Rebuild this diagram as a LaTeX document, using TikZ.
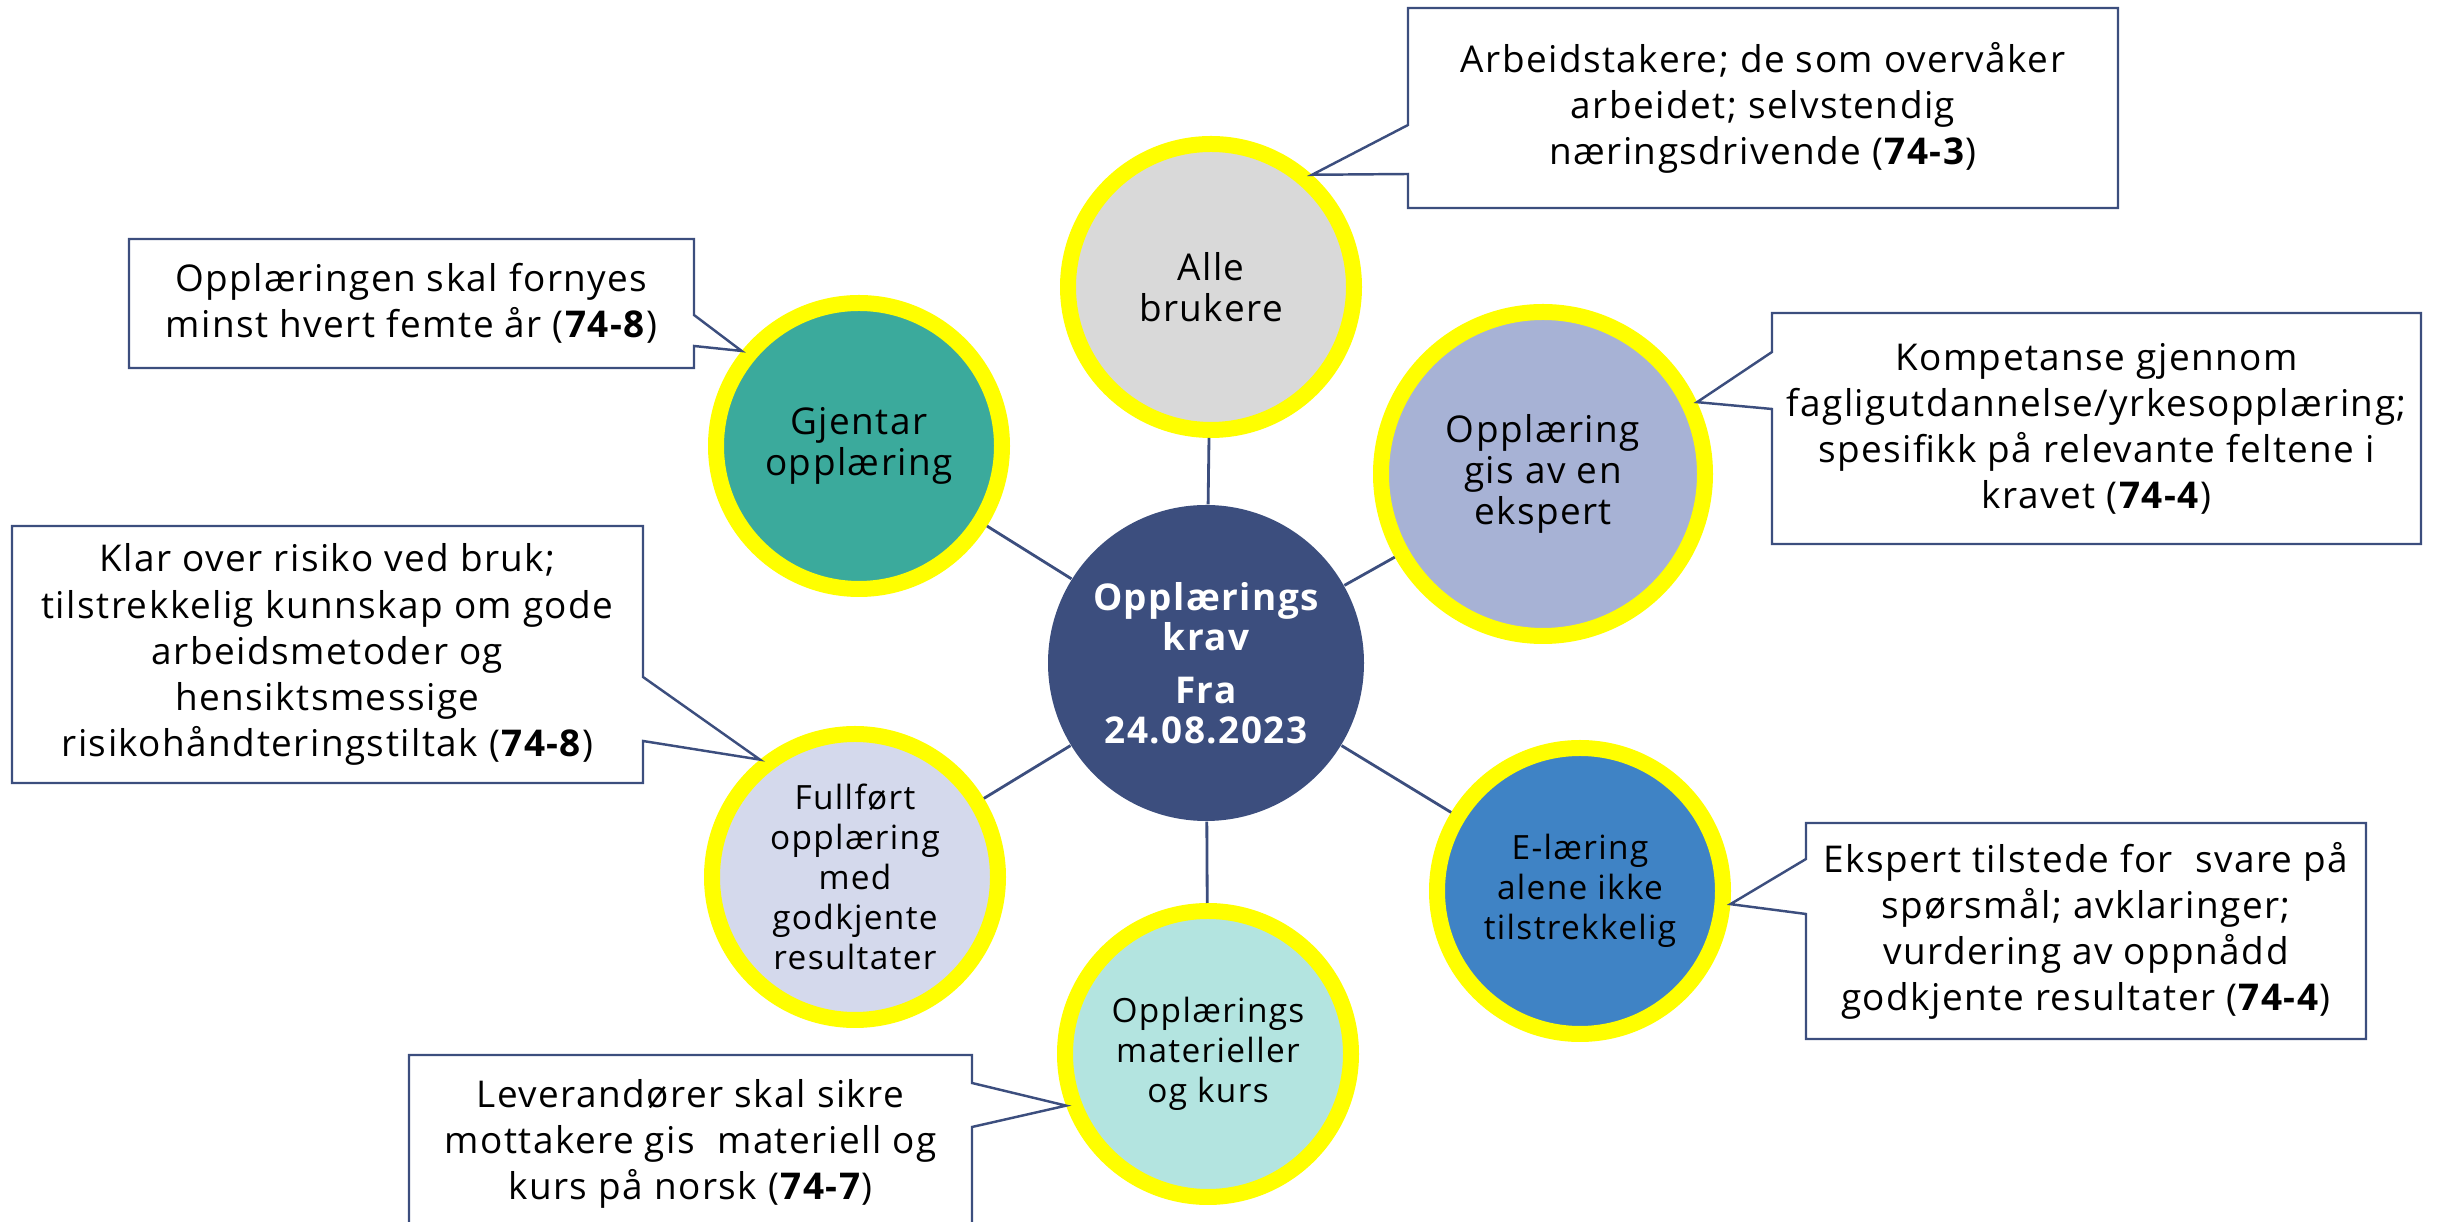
\documentclass[tikz,border=0pt]{standalone}
\usepackage{fontspec}
\setmainfont{Open Sans}[LetterSpace=4.0]

\definecolor{kravblue}{HTML}{3C4E7E}
\definecolor{ringyellow}{HTML}{FFFF00}
\definecolor{allegrey}{HTML}{D9D9D9}
\definecolor{gjentarteal}{HTML}{3BAA9C}
\definecolor{gislavender}{HTML}{A7B2D5}
\definecolor{elaeringblue}{HTML}{3F83C5}
\definecolor{materiellaqua}{HTML}{B3E4E0}
\definecolor{fullfortpale}{HTML}{D4D9EC}

\begin{document}
\begin{tikzpicture}[
		hub/.style={circle,fill=kravblue,text=white,inner sep=0pt,minimum size=3.16cm,
			align=center,font=\bfseries\fontsize{10.5}{11.4}\selectfont},
		bubble/.style={circle,draw=ringyellow,line width=0.16cm,outer sep=0.08cm,inner sep=0pt,
			minimum size=2.86cm,align=center,font=\fontsize{10.5}{11.6}\selectfont},
		smallbubble/.style={bubble,font=\fontsize{9.5}{11.4}\selectfont},
		note/.style={draw=none,outer sep=0pt,inner sep=0pt,align=center,
			font=\fontsize{10.5}{13.1}\selectfont},
		callout/.style={draw=kravblue,line width=0.7pt},
		spoke/.style={draw=kravblue,line width=0.8pt}
		]
		\path[use as bounding box] (0,0) rectangle (24.38,-12.22);
		\clip (0,0) rectangle (24.38,-12.22);

		\node[hub](krav) at (12.06,-6.63){Opplærings\\krav\\[0.13cm]Fra\\24.08.2023};

		\node[bubble, fill=allegrey](alle) at (12.11,-2.87){Alle\\brukere};
		\node[bubble, fill=gjentarteal](gjentar) at (8.59,-4.46){Gjentar\\opplæring};
		\node[bubble, fill=gislavender, minimum size=3.24cm](gis) at (15.43,-4.74){Opplæring\\gis av en\\ekspert};
		\node[smallbubble, fill=elaeringblue](elaering) at (15.80,-8.91){E-læring\\alene ikke\\tilstrekkelig};
		\node[smallbubble, fill=materiellaqua](materiell) at (12.08,-10.54){Opplærings\\materieller\\og kurs};
		\node[smallbubble, fill=fullfortpale](fullfort) at (8.55,-8.77){Fullført\\opplæring\\med\\godkjente\\resultater};

		\foreach \sat in {alle,gjentar,gis,elaering,materiell,fullfort}
			\draw[spoke] (krav) -- (\sat);

		% callouts, right side
		\node[note, minimum width=7.10cm, minimum height=2.00cm](alletxt) at (17.63,-1.08)
			{Arbeidstakere; de som overvåker\\arbeidet; selvstendig\\næringsdrivende (\textbf{74-3})};
		\draw[callout] (alletxt.north west) -- (alletxt.north east) -- (alletxt.south east)
			-- (alletxt.south west) -- (alletxt.west |- 0,-1.74) -- (alle.48)
			-- (alletxt.west |- 0,-1.25) -- cycle;

		\node[note, minimum width=6.49cm, minimum height=2.31cm](gistxt) at (20.965,-4.285)
			{Kompetanse gjennom\\fagligutdannelse/yrkesopplæring;\\spesifikk på relevante feltene i\\kravet (\textbf{74-4})};
		\draw[callout] (gistxt.north west) -- (gistxt.north east) -- (gistxt.south east)
			-- (gistxt.south west) -- (gistxt.west |- 0,-4.09) -- (gis.25)
			-- (gistxt.west |- 0,-3.52) -- cycle;

		\node[note, minimum width=5.60cm, minimum height=2.16cm](elaeringtxt) at (20.86,-9.31)
			{Ekspert tilstede for~ svare på\\spørsmål; avklaringer;\\vurdering av oppnådd\\godkjente resultater (\textbf{74-4})};
		\draw[callout] (elaeringtxt.north west) -- (elaeringtxt.north east) -- (elaeringtxt.south east)
			-- (elaeringtxt.south west) -- (elaeringtxt.west |- 0,-9.14) -- (elaering.-5)
			-- (elaeringtxt.west |- 0,-8.59) -- cycle;

		% callouts, left side
		\node[note, minimum width=5.65cm, minimum height=1.29cm](gjentartxt) at (4.115,-3.035)
			{Opplæringen skal fornyes\\minst hvert femte år (\textbf{74-8})};
		\draw[callout] (gjentartxt.north west) -- (gjentartxt.north east)
			-- (gjentartxt.east |- 0,-3.15) -- (gjentar.141) -- (gjentartxt.east |- 0,-3.46)
			-- (gjentartxt.south east) -- (gjentartxt.south west) -- cycle;

		\node[note, minimum width=6.31cm, minimum height=2.57cm](fullforttxt) at (3.275,-6.545)
			{Klar over risiko ved bruk;\\tilstrekkelig kunnskap om gode\\arbeidsmetoder og\\hensiktsmessige\\risikohåndteringstiltak (\textbf{74-8})};
		\draw[callout] (fullforttxt.north west) -- (fullforttxt.north east)
			-- (fullforttxt.east |- 0,-6.77) -- (fullfort.129) -- (fullforttxt.east |- 0,-7.41)
			-- (fullforttxt.south east) -- (fullforttxt.south west) -- cycle;

		\node[note, minimum width=5.63cm, minimum height=1.78cm](materielltxt) at (6.905,-11.44)
			{Leverandører skal sikre\\mottakere gis~ materiell og\\kurs på norsk (\textbf{74-7})};
		\draw[callout] (materielltxt.north west) -- (materielltxt.north east)
			-- (materielltxt.east |- 0,-10.83) -- (materiell.200) -- (materielltxt.east |- 0,-11.27)
			-- (materielltxt.south east) -- (materielltxt.south west) -- cycle;
	\end{tikzpicture}
\end{document}
